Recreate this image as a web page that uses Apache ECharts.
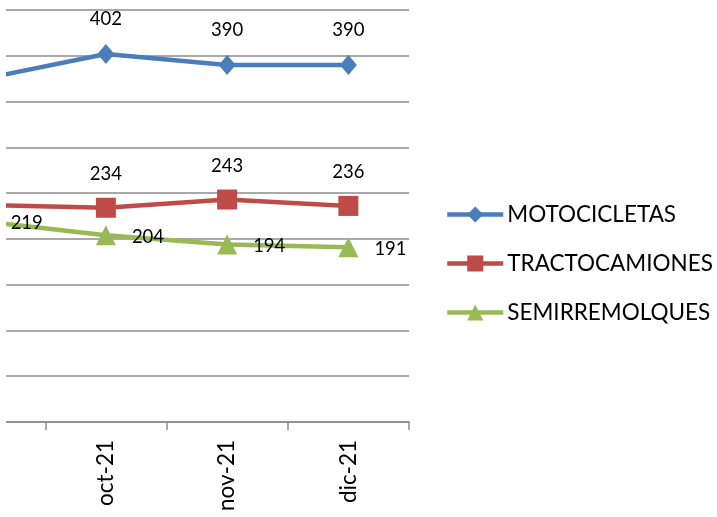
<!DOCTYPE html>
<html>
<head>
<meta charset="utf-8">
<script src="https://cdn.jsdelivr.net/npm/echarts@6/dist/echarts.min.js"></script>
<style>
html,body{margin:0;padding:0;background:#fff;}
#wrap{position:absolute;left:0;top:0;width:717px;height:517px;background:#fff;overflow:hidden;}
#clip{position:absolute;left:6px;top:0;width:711px;height:517px;overflow:hidden;}
#chart{position:absolute;left:-82px;top:0;width:793px;height:517px;}
</style>
</head>
<body>
<div id="wrap"><div id="clip"><div id="chart"></div></div></div>
<script>
const categories = ['sep-21', 'oct-21', 'nov-21', 'dic-21'];
const motocicletas = [375, 402, 390, 390];
const tractocamiones = [237, 234, 243, 236];
const semirremolques = [219, 204, 194, 191];
const seriesNames = ['MOTOCICLETAS', 'TRACTOCAMIONES', 'SEMIRREMOLQUES'];
const yTicks = {min: 0, max: 450, interval: 50};

const FONT = 'Lato';
const gridColor = '#8c8c8c';
const LW = 4.5;

// fit font sizes to the reference text widths
const mctx = document.createElement('canvas').getContext('2d');
function fitSize(text, targetWidth) {
  mctx.font = '100px ' + FONT;
  const w = mctx.measureText(text).width;
  return Math.round(100 * targetWidth / w * 2) / 2;
}
const legendSize = (fitSize('MOTOCICLETAS', 168) + fitSize('TRACTOCAMIONES', 204)) / 2;
const axisSize = fitSize('oct-21', 66);
const labelSize = fitSize('402', 32);

const chart = echarts.init(document.getElementById('chart'), null, {renderer: 'canvas'});
chart.setOption({
  animation: false,
  textStyle: {fontFamily: FONT},
  grid: {left: 0, right: 308, top: 10, bottom: 95, containLabel: false},
  legend: {
    orient: 'vertical',
    left: 516, top: 198,
    itemWidth: 56, itemHeight: 20, itemGap: 26,
    lineStyle: {width: LW},
    textStyle: {fontFamily: FONT, fontSize: legendSize, color: '#000', lineHeight: 20, padding: [0,0,0,-1]},
    data: seriesNames
  },
  xAxis: {
    type: 'category',
    data: categories,
    boundaryGap: true,
    axisLine: {lineStyle: {color: gridColor, width: 1.5}},
    axisTick: {show: true, length: 8, lineStyle: {color: gridColor, width: 1.5}},
    axisLabel: {rotate: 90, margin: 18, fontFamily: FONT, fontSize: axisSize, color: '#000'},
    splitLine: {show: false}
  },
  yAxis: {
    type: 'value',
    min: yTicks.min, max: yTicks.max, interval: yTicks.interval,
    axisLine: {show: false},
    axisTick: {show: false},
    axisLabel: {show: false},
    splitLine: {show: true, lineStyle: {color: gridColor, width: 1.5}}
  },
  series: [
    {
      name: seriesNames[0], type: 'line', data: motocicletas,
      symbol: 'diamond', symbolSize: [17, 20],
      lineStyle: {color: '#4a7ebb', width: LW},
      itemStyle: {color: '#4a7ebb'},
      label: {show: true, position: 'top', distance: 15, fontFamily: FONT, fontSize: labelSize, color: '#000'}
    },
    {
      name: seriesNames[1], type: 'line', data: tractocamiones,
      symbol: 'rect', symbolSize: 20,
      lineStyle: {color: '#be4b48', width: LW},
      itemStyle: {color: '#be4b48'},
      label: {show: true, position: 'top', distance: 14, fontFamily: FONT, fontSize: labelSize, color: '#000'}
    },
    {
      name: seriesNames[2], type: 'line', data: semirremolques,
      symbol: 'triangle', symbolSize: 20,
      lineStyle: {color: '#98b954', width: LW},
      itemStyle: {color: '#98b954'},
      label: {show: true, position: 'right', distance: 16, offset: [0, 2], fontFamily: FONT, fontSize: labelSize, color: '#000'}
    }
  ]
});
</script>
</body>
</html>
